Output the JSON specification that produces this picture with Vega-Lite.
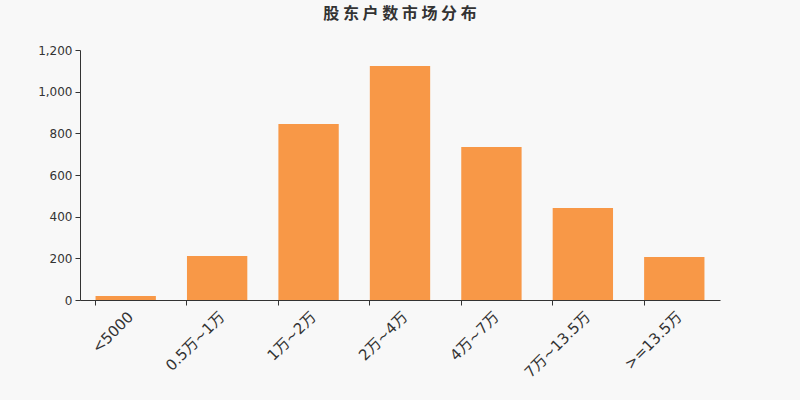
{
  "$schema": "https://vega.github.io/schema/vega-lite/v6.json",
  "autosize": {"type": "none"},
  "width": 640,
  "height": 250,
  "padding": {"left": 80, "top": 50, "right": 80, "bottom": 100},
  "background": "#f8f8f8",
  "title": {
    "text": "股 东 户 数 市 场 分 布",
    "font": "Noto Sans CJK SC",
    "fontSize": 16,
    "fontWeight": "bold",
    "color": "#333333",
    "anchor": "middle",
    "frame": "group",
    "offset": 22
  },
  "config": {
    "view": {"stroke": null},
    "axis": {"labelFont": "DejaVu Sans", "labelColor": "#333333", "domainColor": "#333333", "tickColor": "#333333", "titleFont": "DejaVu Sans"}
  },
  "data": {
    "values": [
      {"range": "<5000", "count": 19},
      {"range": "0.5万~1万", "count": 211},
      {"range": "1万~2万", "count": 845},
      {"range": "2万~4万", "count": 1123},
      {"range": "4万~7万", "count": 735},
      {"range": "7万~13.5万", "count": 442},
      {"range": ">=13.5万", "count": 206}
    ]
  },
  "mark": {"type": "bar", "color": "#f89847"},
  "encoding": {
    "x": {
      "field": "range",
      "type": "nominal",
      "sort": null,
      "scale": {"paddingInner": 0.34, "paddingOuter": 0.17},
      "axis": {
        "title": null,
        "labelAngle": -45,
        "labelAlign": "right",
        "labelBaseline": "top",
        "labelFontSize": 15,
        "labelPadding": 4,
        "bandPosition": 0,
        "tickSize": 5,
        "labelOverlap": false,
        "labelFont": "DejaVu Sans, Noto Sans CJK SC"
      }
    },
    "y": {
      "field": "count",
      "type": "quantitative",
      "scale": {"domain": [0, 1200]},
      "axis": {
        "title": null,
        "grid": false,
        "values": [0, 200, 400, 600, 800, 1000, 1200],
        "labelOverlap": false,
        "labelFontSize": 12,
        "tickSize": 5,
        "labelPadding": 3
      }
    }
  }
}
